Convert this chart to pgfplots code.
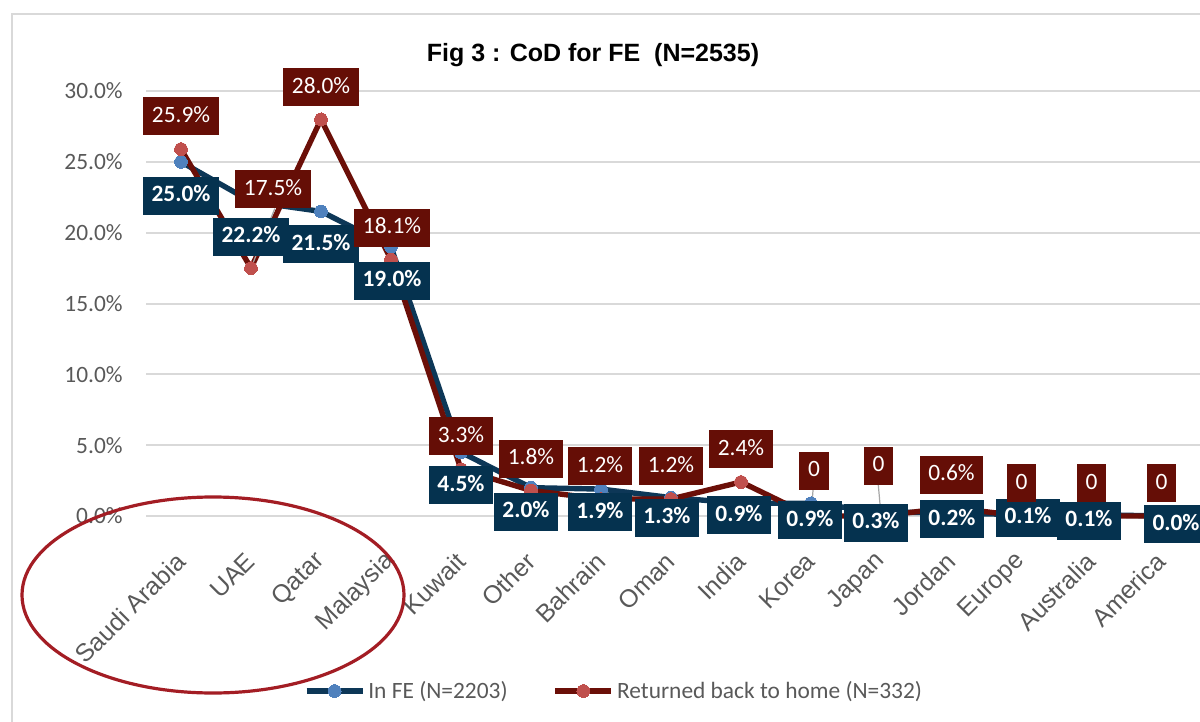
\documentclass[border=0pt]{standalone}
\usepackage{fontspec}
\setmainfont{Carlito}
\newfontfamily\arial{Liberation Sans}
\usepackage{pgfplots}
\pgfplotsset{compat=1.18}
\usepackage{pgfplotstable}

\definecolor{navyline}{HTML}{0D3757}
\definecolor{navybox}{HTML}{05324F}
\definecolor{bluemark}{HTML}{4F81BD}
\definecolor{redline}{HTML}{6B0F08}
\definecolor{redbox}{HTML}{650E06}
\definecolor{redmark}{HTML}{C0504D}
\definecolor{gridgray}{HTML}{D9D9D9}
\definecolor{textgray}{HTML}{595959}
\definecolor{ellred}{HTML}{A31D24}

\pgfplotstableread{
x y lbl dx dy
0 25.0 25.0\% 0 34
1 22.2 22.2\% 0 35
2 21.5 21.5\% 0 33
3 19.0 19.0\% 1 34
4 4.5 4.5\% 0 33
5 2.0 2.0\% -5 24
6 1.9 1.9\% -1 23
7 1.3 1.3\% -4 20
8 0.9 0.9\% -2 12
9 0.9 0.9\% -1 17
10 0.3 0.3\% -5 11
11 0.2 0.2\% 1 6
12 0.1 0.1\% 7 3
13 0.1 0.1\% -2 6
14 0.0 0.0\% 15 8
}\infe

\pgfplotstableread{
x y lbl dx dy
0 25.9 25.9\% 0 -33
1 17.5 17.5\% 22 -79
2 28.0 28.0\% 0 -32
3 18.1 18.1\% 1 -32
4 3.3 3.3\% 0 -33
5 1.8 1.8\% 0 -32
6 1.2 1.2\% -1 -33
7 1.2 1.2\% 0 -33
8 2.4 2.4\% 0 -33
9 0 0 3 -45.5
10 0 0 -2.5 -50.5
11 0.6 0.6\% 0.5 -33
12 0 0 0.5 -33
13 0 0 0.5 -33
14 0 0 0.5 -33
}\ret

\begin{document}
\begin{tikzpicture}
\begin{axis}[
  width=527pt, height=212.5pt, scale only axis,
  at={(73pt,-258pt)}, anchor=south west,
  xmin=-0.5, xmax=14.557, ymin=0, ymax=30,
  clip=false,
  axis line style={draw=none},
  major tick length=0pt,
  ymajorgrids, grid style={gridgray, line width=1pt},
  ytick={0,5,10,15,20,25,30},
  yticklabels={0.0\%,5.0\%,10.0\%,15.0\%,20.0\%,25.0\%,30.0\%},
  xtick={0,1,...,14},
  xticklabels={Saudi Arabia,UAE,Qatar,Malaysia,Kuwait,Other,Bahrain,Oman,India,Korea,Japan,Jordan,Europe,Australia,America},
  xticklabel style={rotate=45, anchor=east, font=\arial\fontsize{12.5}{14}\selectfont, text=textgray, inner sep=0pt, xshift=-14.5pt, yshift=-14.5pt},
  yticklabel style={font=\fontsize{11.7}{14}\selectfont, text=textgray, inner sep=0pt, xshift=-11.5pt},
  legend columns=2,
  legend style={at={(0.4445,-0.4118)}, anchor=center, draw=none, fill=none,
    font=\fontsize{11.7}{14}\selectfont, text=textgray, inner sep=0pt,
    /tikz/every even column/.append style={column sep=21pt},
    nodes={inner sep=1.5pt}},
  legend image code/.code={\draw[mark repeat=2,mark phase=2,#1] plot coordinates {(0pt,0pt) (14pt,0pt) (28pt,0pt)};},
]
\addplot[navyline, line width=2.7pt, mark=*, mark size=3.2pt, mark options={fill=bluemark, draw=bluemark, line width=0pt}] table[x=x,y=y]{\infe};
\addlegendentry{In FE (N=2203)}
\addplot[redline, line width=2.7pt, mark=*, mark size=3.2pt, mark options={fill=redmark, draw=redmark, line width=0pt}] table[x=x,y=y]{\ret};
\addlegendentry{Returned back to home (N=332)}

\addplot[draw=none, forget plot, point meta=explicit symbolic, nodes near coords,
  visualization depends on={\thisrow{dx}\as\dx},
  visualization depends on={\thisrow{dy}\as\dy},
  every node near coord/.append style={fill=navybox, text=white, font=\bfseries\fontsize{11.7}{14}\selectfont, anchor=center, inner xsep=4.3pt, inner ysep=0pt, minimum height=19pt, text height=8.3pt, text depth=2.3pt, xshift=\dx*0.5pt, yshift=-\dy*0.5pt}]
  table[x=x,y=y,meta=lbl]{\infe};
\addplot[draw=none, forget plot, point meta=explicit symbolic, nodes near coords,
  visualization depends on={\thisrow{dx}\as\dx},
  visualization depends on={\thisrow{dy}\as\dy},
  every node near coord/.append style={fill=redbox, text=white, font=\fontsize{11.7}{14}\selectfont, anchor=center, inner xsep=4.3pt, inner ysep=0pt, minimum height=19pt, text height=8.3pt, text depth=2.3pt, xshift=\dx*0.5pt, yshift=-\dy*0.5pt}]
  table[x=x,y=y,meta=lbl]{\ret};

\draw[gray!70, line width=0.6pt] (axis cs:1.34,21.7) -- (axis cs:1,17.5);
\draw[gray!70, line width=0.6pt] (axis cs:9.03,1.9) -- (axis cs:9,0.0);
\draw[gray!70, line width=0.6pt] (axis cs:9.96,2.26) -- (axis cs:10,0.05);
\end{axis}
\node[font=\arial\bfseries\fontsize{12.5}{15}\selectfont, anchor=base] at (296.5pt,-31pt) {Fig 3 : CoD for FE\ \ (N=2535)};
\draw[ellred, line width=1.6pt] (106.5pt,-297.5pt) ellipse [x radius=95.5pt, y radius=49pt];
\draw[gridgray, line width=1pt] (6pt,-361pt) -- (6pt,-7pt) -- (600pt,-7pt);
\pgfresetboundingbox
\useasboundingbox (0pt,0pt) rectangle (600pt,-361pt);
\end{tikzpicture}
\end{document}
